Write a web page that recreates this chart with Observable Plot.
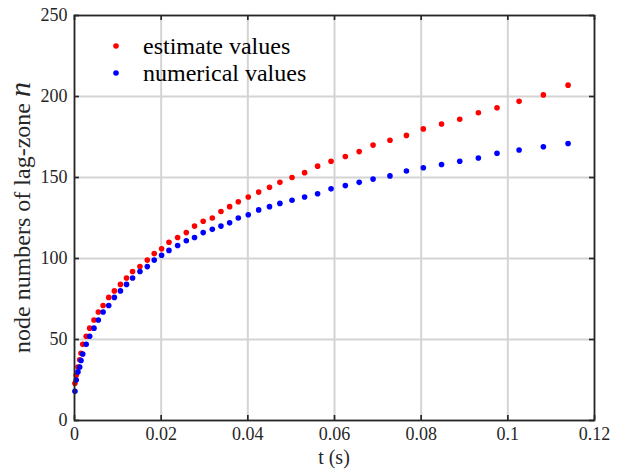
<!DOCTYPE html>
<html>
<head>
<meta charset="utf-8">
<script src="https://cdn.jsdelivr.net/npm/d3@7"></script>
<script src="https://cdn.jsdelivr.net/npm/@observablehq/plot@0.6"></script>
<style>
  html, body { margin: 0; padding: 0; background: #fff; }
  #chart { position: relative; width: 627px; height: 471px; }
</style>
</head>
<body>
<div id="chart"></div>
<script>
// time instants (s)
const time = [
  0.0001, 0.0004, 0.0008, 0.0012, 0.0015, 0.0019, 0.0027, 0.0035, 0.0045, 0.0055,
  0.0066, 0.0079, 0.0092, 0.0106, 0.0120, 0.0134, 0.0151, 0.0168, 0.0184, 0.0201,
  0.0218, 0.0238, 0.0258, 0.0277, 0.0297, 0.0318, 0.0338, 0.0358, 0.0378, 0.0401,
  0.0425, 0.0450, 0.0474, 0.0502, 0.0531, 0.0561, 0.0592, 0.0625, 0.0657, 0.0689,
  0.0728, 0.0766, 0.0805, 0.0847, 0.0889, 0.0932, 0.0975, 0.1026, 0.1082, 0.1139
];
// estimated node numbers of the lag zone
const estimate = [
  23, 28, 33, 37.5, 41.5, 47, 52, 57, 62, 67,
  71, 76, 80, 84, 88, 92, 95, 99, 103, 106,
  110, 113, 116, 120, 123, 125, 129, 132, 135, 138,
  141, 144, 147, 150, 153, 157, 160, 163, 166, 170,
  173, 176, 180, 183, 186, 190, 193, 197, 201, 207
];
// numerically computed node numbers of the lag zone
const numerical = [
  18, 25, 30, 33, 37, 41, 47, 52, 57, 62,
  67, 71, 76, 80, 84, 88, 92, 95, 99, 102,
  105, 108, 111, 113, 116, 118, 120, 122, 125, 127,
  130, 132, 134, 136, 138, 140, 143, 145, 147, 149,
  151, 154, 156, 158, 160, 162, 165, 167, 169, 171
];
const seriesNames = ["estimate values", "numerical values"];
const seriesColors = ["#ff0000", "#0000ff"];
const xTicks = [0, 0.02, 0.04, 0.06, 0.08, 0.1, 0.12];
const yTicks = [0, 50, 100, 150, 200, 250];
const xLabel = "t (s)";
const yLabel = "node numbers of lag-zone ";
const yLabelSymbol = "n";

const rows = [
  ...time.map((t, i) => ({t, n: estimate[i], s: seriesNames[0]})),
  ...time.map((t, i) => ({t, n: numerical[i], s: seriesNames[1]}))
];

const font = "Liberation Serif";
const ink = "#262626";
const fmt = d => String(+d.toFixed(2));

const svg = Plot.plot({
  width: 627,
  height: 471,
  marginLeft: 74,
  marginRight: 33,
  marginTop: 15,
  marginBottom: 51,
  style: {fontFamily: font, background: "#fff", overflow: "visible"},
  x: {domain: [0, 0.12]},
  y: {domain: [0, 250]},
  color: {domain: seriesNames, range: seriesColors},
  marks: [
    Plot.gridX(xTicks, {stroke: "#d4d4d4", strokeOpacity: 1, strokeWidth: 2}),
    Plot.gridY(yTicks, {stroke: "#d4d4d4", strokeOpacity: 1, strokeWidth: 2}),
    Plot.dot(rows, {x: "t", y: "n", fill: "s", r: 2.8, stroke: null}),
    Plot.frame({stroke: ink, strokeWidth: 1.7}),
    // inward tick marks on all four sides
    Plot.tickX(xTicks, {x: d => d, stroke: ink, strokeWidth: 1.7, insetTop: 400}),
    Plot.tickX(xTicks, {x: d => d, stroke: ink, strokeWidth: 1.7, insetBottom: 400}),
    Plot.tickY(yTicks, {y: d => d, stroke: ink, strokeWidth: 1.7, insetRight: 515}),
    Plot.tickY(yTicks, {y: d => d, stroke: ink, strokeWidth: 1.7, insetLeft: 515}),
    Plot.axisX(xTicks, {tickSize: 0, tickPadding: 7, tickFormat: fmt, fontSize: 18, fontFamily: font, fontVariant: "normal", fill: ink, label: null}),
    Plot.axisY(yTicks, {tickSize: 0, tickPadding: 7, tickFormat: fmt, fontSize: 18, fontFamily: font, fontVariant: "normal", fill: ink, label: null})
  ]
});

// axis titles
const xs = svg.scale("x").range, ys = svg.scale("y").range;
const s = d3.select(svg);
s.append("text")
  .attr("x", (xs[0] + xs[1]) / 2).attr("y", 464)
  .attr("text-anchor", "middle")
  .attr("font-family", font).attr("font-size", 20).attr("fill", ink)
  .text(xLabel);
const yt = s.append("text")
  .attr("transform", `translate(30,${(ys[0] + ys[1]) / 2}) rotate(-90)`)
  .attr("text-anchor", "middle")
  .attr("font-family", font).attr("font-size", 24).attr("fill", ink);
yt.append("tspan").text(yLabel);
yt.append("tspan").attr("font-style", "italic").attr("font-size", 30).text(yLabelSymbol);

// legend inside the axes, anchored to the top-left corner of the frame
const lg = s.append("g").attr("transform", `translate(${xs[0] + 42},${ys[1] + 31})`);
seriesNames.forEach((name, i) => {
  const row = lg.append("g").attr("transform", `translate(0,${i * 27})`);
  row.append("circle").attr("r", 2.8).attr("fill", seriesColors[i]);
  row.append("text").attr("x", 27).attr("dy", "0.32em")
    .attr("text-anchor", "start")
    .attr("font-family", font).attr("font-size", 24).attr("fill", "#000")
    .text(name);
});

document.getElementById("chart").appendChild(svg);
</script>
</body>
</html>
